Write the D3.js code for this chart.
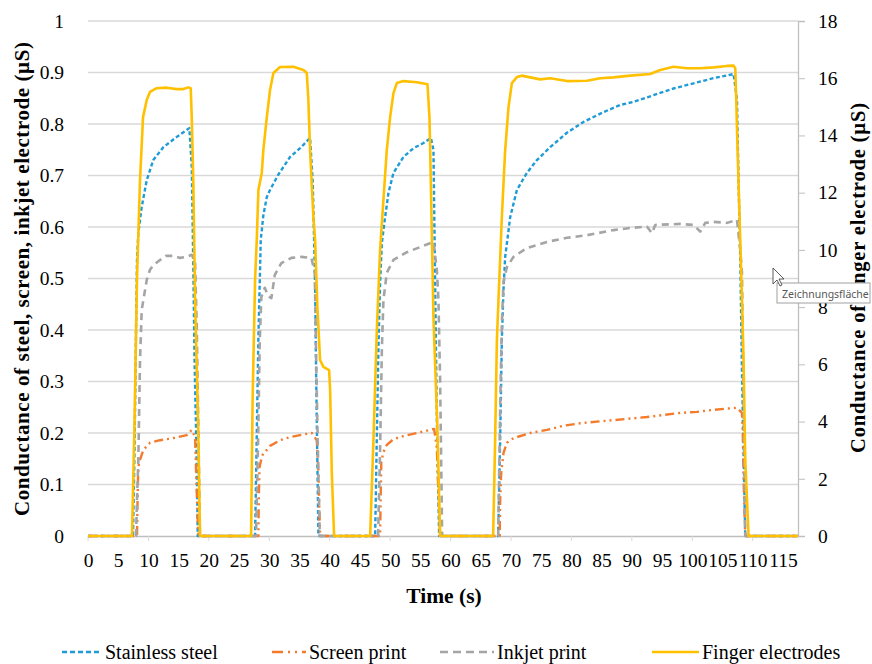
<!DOCTYPE html>
<html>
<head>
<meta charset="utf-8">
<script src="https://cdn.jsdelivr.net/npm/d3@7"></script>
<style>
  body { margin: 0; background: #fff; }
  svg text { font-family: "Liberation Serif", "Times New Roman", serif; fill: #000; }
</style>
</head>
<body>
<div id="chart"></div>
<script>
// time (s), conductance (µS)
const stainlessSteel = [
  [0, 0], [7.45, 0], [7.7, 0.167], [7.95, 0.40], [8.11, 0.536], [8.33, 0.588], [8.89, 0.639],
  [9.72, 0.691], [10.81, 0.730], [12.47, 0.755], [14.69, 0.775], [16.77, 0.792], [17.17, 0.717],
  [17.43, 0.522], [17.63, 0.342], [17.99, 0.148], [18.16, 0],
  [27.65, 0], [28.19, 0.381], [28.59, 0.575], [29.02, 0.623], [29.59, 0.658], [30.13, 0.672],
  [31.46, 0.701], [33.44, 0.736], [35.1, 0.753], [36.75, 0.773], [37.2, 0.685], [37.58, 0.491],
  [37.75, 0.317], [38.13, 0],
  [47.52, 0], [47.76, 0.167], [48.06, 0.361], [48.34, 0.491], [48.63, 0.569], [49.17, 0.619],
  [49.72, 0.666], [50.55, 0.705], [52.2, 0.736], [53.86, 0.753], [55.51, 0.763], [56.74, 0.773],
  [57.17, 0.75], [57.45, 0.491], [57.73, 0.231], [58.11, 0],
  [67.88, 0], [68.21, 0.186], [68.49, 0.381], [68.76, 0.478], [69.04, 0.542], [69.87, 0.619],
  [70.98, 0.672], [72.63, 0.705], [74.29, 0.730], [76.49, 0.755], [79.26, 0.783], [82.0, 0.804],
  [85.31, 0.823], [88.08, 0.837], [90.28, 0.843], [93.59, 0.856], [96.9, 0.869], [100.22, 0.879],
  [103.53, 0.889], [106.84, 0.897], [107.4, 0.847], [107.67, 0.685], [107.95, 0.536],
  [108.23, 0.317], [108.77, 0], [117.5, 0]
];

const screenPrint = [
  [0, 0], [8.11, 0], [8.2, 0.07], [8.33, 0.134], [8.61, 0.148], [9.16, 0.167], [10.26, 0.181],
  [11.92, 0.186], [14.12, 0.190], [16.34, 0.196], [17.17, 0.206], [17.72, 0.192], [18.0, 0.083],
  [18.26, 0],
  [28.2, 0], [28.26, 0.07], [28.39, 0.134], [28.76, 0.153], [29.02, 0.161], [29.59, 0.167],
  [30.13, 0.175], [31.79, 0.186], [33.44, 0.192], [35.1, 0.196], [37.04, 0.200], [37.87, 0.186],
  [38.13, 0.122], [38.41, 0],
  [48.34, 0], [48.43, 0.07], [48.54, 0.144], [48.89, 0.163], [49.45, 0.177], [50.55, 0.188],
  [52.2, 0.194], [54.42, 0.200], [56.62, 0.206], [57.28, 0.208], [57.73, 0.171], [58.0, 0.083],
  [58.28, 0],
  [68.13, 0], [68.21, 0.07], [68.38, 0.122], [68.76, 0.161], [69.32, 0.181], [70.41, 0.190],
  [73.18, 0.200], [75.94, 0.206], [78.69, 0.214], [81.46, 0.219], [86.97, 0.225], [92.5, 0.231],
  [95.25, 0.235], [98.01, 0.239], [100.78, 0.241], [103.53, 0.245], [107.4, 0.249],
  [108.23, 0.239], [108.36, 0.200], [108.49, 0.109], [108.77, 0], [117.5, 0]
];

const inkjetPrint = [
  [0, 0], [7.95, 0], [8.11, 0.07], [8.33, 0.148], [8.61, 0.342], [8.89, 0.439], [9.16, 0.458],
  [9.72, 0.497], [10.26, 0.517], [10.81, 0.526], [11.92, 0.536], [12.91, 0.544], [14.12, 0.544],
  [15.23, 0.540], [16.34, 0.542], [17.17, 0.546], [17.72, 0.532], [18.0, 0.406], [18.26, 0.212],
  [18.54, 0],
  [27.81, 0], [28.15, 0.186], [28.43, 0.381], [28.69, 0.464], [29.26, 0.482], [29.8, 0.466],
  [30.35, 0.462], [30.91, 0.507], [32.0, 0.530], [33.66, 0.540], [35.31, 0.542], [36.97, 0.540],
  [37.53, 0.511], [37.8, 0.317], [38.08, 0.148], [38.36, 0],
  [48.01, 0], [48.34, 0.167], [48.63, 0.361], [48.89, 0.458], [49.45, 0.511], [50.55, 0.536],
  [52.77, 0.551], [54.97, 0.561], [57.17, 0.571], [57.73, 0.517], [58.0, 0.458], [58.28, 0.297],
  [58.61, 0],
  [67.88, 0], [68.21, 0.250], [68.49, 0.414], [68.76, 0.493], [69.32, 0.522], [70.41, 0.542],
  [72.63, 0.559], [75.94, 0.571], [79.26, 0.579], [82.57, 0.584], [86.97, 0.594], [89.74, 0.598],
  [92.5, 0.601], [93.33, 0.588], [93.87, 0.604], [98.01, 0.606], [100.22, 0.604], [101.32, 0.591],
  [102.15, 0.608], [103.53, 0.610], [105.75, 0.608], [107.4, 0.614], [107.95, 0.555],
  [108.23, 0.511], [108.49, 0.250], [108.77, 0], [117.5, 0]
];

// secondary axis
const fingerElectrodes = [
  [0, 0], [7.28, 0], [7.7, 3.95], [8.11, 9.05], [8.61, 12.44], [9.11, 14.64], [9.72, 15.24],
  [10.26, 15.52], [11.37, 15.65], [13.03, 15.67], [14.69, 15.62], [15.78, 15.62], [16.61, 15.68],
  [17.0, 15.65], [17.17, 14.64], [17.43, 12.34], [17.72, 8.25], [18.21, 4.05], [18.54, 0],
  [26.99, 0], [27.24, 4.75], [27.65, 8.95], [27.93, 10.35], [28.2, 12.09], [28.76, 12.69],
  [29.02, 13.49], [29.59, 14.64], [30.13, 15.59], [30.68, 16.18], [31.79, 16.39], [33.99, 16.40],
  [35.65, 16.29], [36.21, 16.18], [36.47, 15.24], [36.75, 13.49], [37.3, 11.15], [37.58, 10.35],
  [37.96, 8.0], [38.41, 6.15], [38.96, 5.91], [39.9, 5.80], [40.07, 5.10], [40.35, 2.2], [40.73, 0],
  [46.69, 0], [47.24, 3.36], [47.8, 7.2], [48.34, 10.0], [48.89, 11.74], [49.45, 13.49],
  [50.0, 14.64], [50.55, 15.48], [51.11, 15.83], [52.2, 15.90], [54.42, 15.86], [56.18, 15.79],
  [56.51, 14.64], [56.74, 12.34], [57.17, 7.65], [57.78, 4.05], [58.28, 0],
  [67.05, 0], [67.38, 3.36], [67.67, 6.85], [67.93, 8.25], [68.49, 11.15], [69.04, 13.49],
  [69.59, 14.99], [70.15, 15.83], [70.98, 16.04], [71.8, 16.09], [73.18, 16.03], [74.83, 15.96],
  [76.49, 16.0], [79.26, 15.90], [82.57, 15.91], [84.77, 16.0], [86.97, 16.03], [89.74, 16.09],
  [93.05, 16.15], [94.7, 16.29], [96.9, 16.40], [99.12, 16.35], [101.32, 16.35], [103.53, 16.38],
  [105.75, 16.43], [106.84, 16.44], [107.12, 16.35], [107.28, 15.24], [107.5, 13.49],
  [107.83, 11.15], [108.23, 8.25], [108.49, 6.15], [108.77, 2.66], [109.06, 1.26], [109.32, 0],
  [117.5, 0]
];

const timeTicks = d3.range(0, 116, 5);
const leftTicks = [0, 0.1, 0.2, 0.3, 0.4, 0.5, 0.6, 0.7, 0.8, 0.9, 1];
const rightTicks = [0, 2, 4, 6, 8, 10, 12, 14, 16, 18];

const width = 872, height = 664,
    margin = ({ top: 21, right: 74, bottom: 128, left: 88 });

const svg = d3.select("#chart")
    .append("svg")
    .attr("width", width)
    .attr("height", height)
    .attr("viewBox", [0, 0, width, height]);

let x = d3.scaleLinear()
    .domain([0, 117.5])
    .range([margin.left, width - margin.right]);

let y = d3.scaleLinear()
    .domain([0, 1])
    .range([height - margin.bottom, margin.top]);

let y2 = d3.scaleLinear()
    .domain([0, 18])
    .range([height - margin.bottom, margin.top]);

// gridlines
svg.append("g")
    .attr("class", "grid")
    .selectAll("line")
    .data(leftTicks.slice(1))
    .join("line")
    .attr("x1", margin.left)
    .attr("x2", width - margin.right)
    .attr("y1", d => y(d))
    .attr("y2", d => y(d))
    .attr("stroke", "#d9d9d9")
    .attr("stroke-width", 1.3);

// x axis: labels every 5 s, tick marks every 10 s
const xAxis = svg.append("g")
    .attr("class", "x-axis")
    .attr("transform", `translate(0,${height - margin.bottom})`)
    .call(d3.axisBottom(x).tickValues(timeTicks).tickSize(0).tickPadding(17));
xAxis.select(".domain").attr("stroke", "#bfbfbf").attr("stroke-width", 1.3);
xAxis.selectAll("text").style("font-size", "19.5px");
svg.append("g")
    .attr("transform", `translate(0,${height - margin.bottom})`)
    .selectAll("line")
    .data(timeTicks.filter(d => d % 10 === 0))
    .join("line")
    .attr("x1", d => x(d)).attr("x2", d => x(d))
    .attr("y1", 0).attr("y2", 5)
    .attr("stroke", "#d9d9d9");

// left axis (labels only)
const yAxis = svg.append("g")
    .attr("class", "y-axis")
    .attr("transform", `translate(${margin.left},0)`)
    .call(d3.axisLeft(y).tickValues(leftTicks).tickSize(0).tickPadding(24).tickFormat(d => d3.format("")(+d.toFixed(1))));
yAxis.select(".domain").remove();
yAxis.selectAll("text").style("font-size", "19.5px");

// right axis
const y2Axis = svg.append("g")
    .attr("class", "y2-axis")
    .attr("transform", `translate(${width - margin.right},0)`)
    .call(d3.axisRight(y2).tickValues(rightTicks).tickSize(7).tickPadding(13));
y2Axis.select(".domain").attr("stroke", "#bfbfbf").attr("stroke-width", 1.3);
y2Axis.selectAll(".tick line").attr("stroke", "#bfbfbf");
y2Axis.selectAll("text").style("font-size", "19.5px");

const line = d3.line()
    .x(d => x(d[0]))
    .y(d => y(d[1]));
const line2 = d3.line()
    .x(d => x(d[0]))
    .y(d => y2(d[1]));

const series = [
  { name: "Stainless steel", data: stainlessSteel, gen: line, color: "#1f9bd7", dash: "4 2.5", w: 2.4 },
  { name: "Screen print", data: screenPrint, gen: line, color: "#f47a2c", dash: "9 4 2 4 2 4", w: 2.4 },
  { name: "Inkjet print", data: inkjetPrint, gen: line, color: "#a5a5a5", dash: "7 5", w: 2.6 },
  { name: "Finger electrodes", data: fingerElectrodes, gen: line2, color: "#ffc000", dash: null, w: 2.6 }
];

svg.append("g")
    .attr("class", "plot")
    .selectAll("path")
    .data(series)
    .join("path")
    .attr("d", d => d.gen(d.data))
    .attr("fill", "none")
    .attr("stroke", d => d.color)
    .attr("stroke-width", d => d.w)
    .attr("stroke-dasharray", d => d.dash)
    .attr("stroke-linejoin", "round");

// axis titles
svg.append("text")
    .attr("text-anchor", "middle")
    .attr("x", 444)
    .attr("y", 603)
    .style("font-size", "21.5px")
    .style("font-weight", "bold")
    .text("Time (s)");

svg.append("text")
    .attr("text-anchor", "middle")
    .attr("transform", "translate(22,279) rotate(-90)")
    .attr("dy", "0.35em")
    .attr("textLength", 474)
    .attr("lengthAdjust", "spacing")
    .style("font-size", "21px")
    .style("font-weight", "bold")
    .text("Conductance of steel, screen, inkjet electrode (µS)");

svg.append("text")
    .attr("text-anchor", "middle")
    .attr("transform", "translate(858,278) rotate(-90)")
    .attr("dy", "0.35em")
    .attr("textLength", 350)
    .attr("lengthAdjust", "spacing")
    .style("font-size", "20.5px")
    .style("font-weight", "bold")
    .text("Conductance of finger electrode (µS)");

// legend
const legendX = [62, 272, 440, 652];
const legendLen = [40, 34, 54, 47];
const legend = svg.append("g")
    .attr("class", "legend")
    .attr("transform", "translate(0,652)");
const cells = legend.selectAll("g")
    .data(series)
    .join("g")
    .attr("transform", (d, i) => `translate(${legendX[i]},0)`);
cells.append("line")
    .attr("x1", 0)
    .attr("x2", (d, i) => legendLen[i])
    .attr("stroke", d => d.color)
    .attr("stroke-width", 2.6)
    .attr("stroke-dasharray", (d, i) => ["5 3", "11 5 2 5 2 5", "8 5", null][i]);
cells.append("text")
    .attr("x", (d, i) => legendLen[i] + 3)
    .attr("dy", "0.33em")
    .style("font-size", "20px")
    .text(d => d.name);

// tooltip left over in the screenshot
const tip = svg.append("g").attr("class", "tooltip");
tip.append("rect")
    .attr("x", 777).attr("y", 283)
    .attr("width", 93).attr("height", 20)
    .attr("fill", "#fff")
    .attr("stroke", "#a0a0a0");
tip.append("text")
    .attr("x", 782).attr("y", 298)
    .style("font-family", "'Noto Sans', sans-serif")
    .style("font-size", "10.5px")
    .style("fill", "#575757")
    .text("Zeichnungsfläche");
tip.append("path")
    .attr("d", "M773,268 L773,284 L777,280 L780,286 L782,285 L779,279 L784,279 Z")
    .attr("fill", "#fff")
    .attr("stroke", "#333")
    .attr("stroke-width", 0.8);
</script>
</body>
</html>
